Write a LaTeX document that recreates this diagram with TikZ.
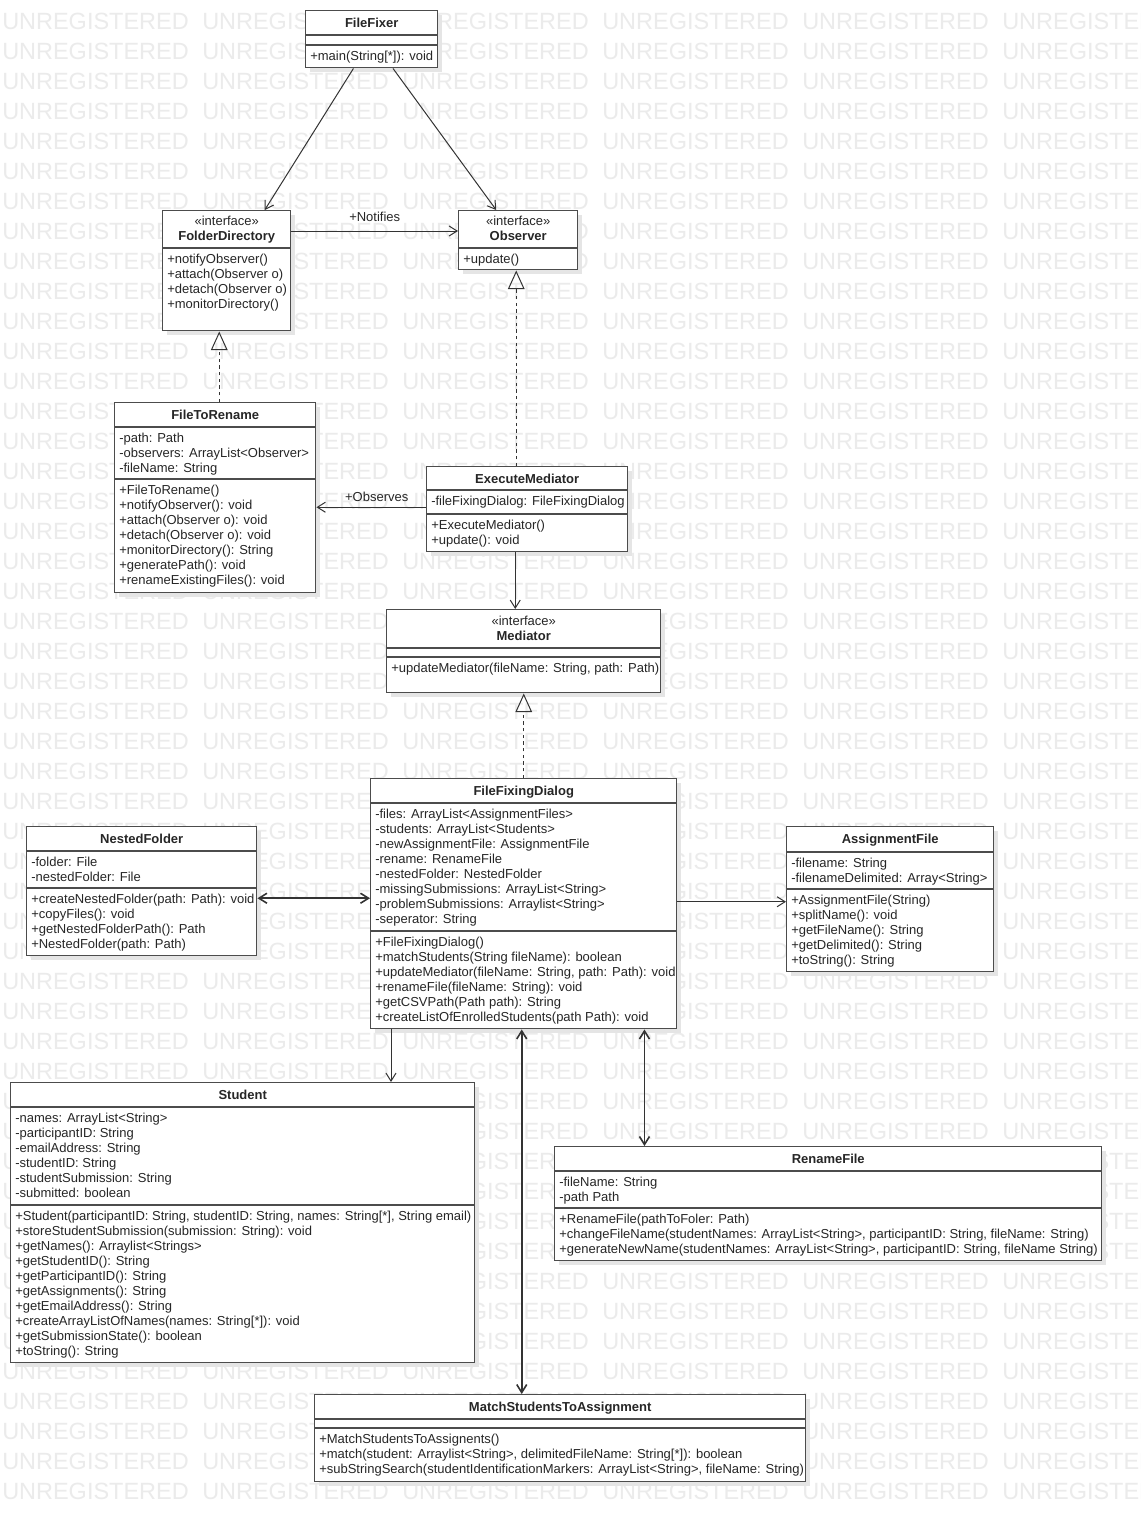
\documentclass[tikz,border=0pt]{standalone}
\usepackage{fontspec}
\setmainfont{Liberation Sans}
\usepackage{tikz}
\usetikzlibrary{arrows.meta, positioning, calc, shadows}
\newdimen\upx
\upx=0.75pt
\newcommand{\umltext}{\fontsize{9.75}{11.25}\selectfont}
\tikzset{
  classbox/.style={draw=black!70, line width=1.1pt, fill=white, anchor=north west, inner sep=0pt,
    drop shadow={shadow xshift=4\upx, shadow yshift=-4\upx, fill=black!10, opacity=1}},
  classline/.style={draw=black!70, line width=1.1pt},
  classname/.style={anchor=base, inner sep=0pt, font=\umltext\bfseries, text=black!85},
  stereo/.style={anchor=base, inner sep=0pt, font=\umltext, text=black!85},
  members/.style={anchor=north west, inner sep=0pt, align=left, font=\umltext, text=black!85},
  edgelabel/.style={inner sep=0pt, font=\umltext, text=black!85},
  assoc/.style={draw=black!80, line width=0.75pt, -{Straight Barb[length=6pt, width=7.5pt]}},
  bidir/.style={draw=black!80, line width=1.2pt, {Straight Barb[length=6pt, width=7.5pt]}-{Straight Barb[length=6pt, width=7.5pt]}},
  realize/.style={draw=black!80, line width=0.75pt, dash pattern=on 2.5pt off 2.5pt, -{Triangle[open, length=14pt, width=12.5pt]}},
  watermark/.style={anchor=west, inner sep=0pt, font=\fontsize{17.6}{20}\selectfont, text=black!8}
}
\newcommand{\umlclass}[5]{% id, left, top, width, height
  \node[classbox, minimum width=#4\upx, minimum height=#5\upx] (#1) at (#2,#3) {};
}
\newcommand{\umlsep}[2]{% id, offset below top
  \draw[classline] ($(#1.north west)+(0,#2)$) -- ($(#1.north east)+(0,#2)$);
}
\newcommand{\umlname}[3]{\node[classname] (#1-name) at ($(#1.north)+(0,#2+1)$) {#3};}
\newcommand{\umlstereo}[2]{\node[stereo] (#1-stereo) at ($(#1.north)+(0,#2+1)$) {«interface»};}
\newcommand{\umlmembers}[4]{\node[members] (#1-#2) at ($(#1.north west)+(5,#3+1)$) {#4};}

\begin{document}
\begin{tikzpicture}[x=1\upx, y=-1\upx]
        \fill[white] (0,0) rectangle (1140,1521);
        \useasboundingbox (0,0) rectangle (1140,1521);

        % Watermark
        \begin{scope}
          \clip (0,0) rectangle (1140,1521);
          \foreach \row in {0,...,49}
            \foreach \col in {0,...,5}
              \node[watermark] (wm-\row-\col) at (200*\col+2, 21+30*\row) {UNREGISTERED};
        \end{scope}

        % FileFixer
        \umlclass{fixer}{305}{10}{132}{57}
        \umlname{fixer}{16.5}{FileFixer}
        \umlsep{fixer}{25}
        \umlsep{fixer}{35}
        \umlmembers{fixer}{ops}{40}{+main(String[*]): void}

        % FolderDirectory
        \umlclass{folderdir}{162}{210}{128}{120}
        \umlstereo{folderdir}{14}
        \umlname{folderdir}{29.5}{FolderDirectory}
        \umlsep{folderdir}{38}
        \umlmembers{folderdir}{ops}{43}{+notifyObserver()\\+attach(Observer o)\\+detach(Observer o)\\+monitorDirectory()}

        % Observer
        \umlclass{observer}{458}{210}{119}{59}
        \umlstereo{observer}{14}
        \umlname{observer}{29.5}{Observer}
        \umlsep{observer}{38}
        \umlmembers{observer}{ops}{43}{+update()}

        % FileToRename
        \umlclass{filetorename}{114}{402}{201}{190}
        \umlname{filetorename}{16.5}{FileToRename}
        \umlsep{filetorename}{25}
        \umlsep{filetorename}{77}
        \umlmembers{filetorename}{attrs}{30}{-path: Path\\-observers: ArrayList<Observer>\\-fileName: String}
        \umlmembers{filetorename}{ops}{82}{+FileToRename()\\+notifyObserver(): void\\+attach(Observer o): void\\+detach(Observer o): void\\+monitorDirectory(): String\\+generatePath(): void\\+renameExistingFiles(): void}

        % ExecuteMediator
        \umlclass{execmediator}{426}{466}{201}{85}
        \umlname{execmediator}{16}{ExecuteMediator}
        \umlsep{execmediator}{24}
        \umlsep{execmediator}{48}
        \umlmembers{execmediator}{attrs}{29}{-fileFixingDialog: FileFixingDialog}
        \umlmembers{execmediator}{ops}{53}{+ExecuteMediator()\\+update(): void}

        % Mediator
        \umlclass{mediator}{386}{609}{274}{83}
        \umlstereo{mediator}{15}
        \umlname{mediator}{30.5}{Mediator}
        \umlsep{mediator}{39}
        \umlsep{mediator}{48}
        \umlmembers{mediator}{ops}{53}{+updateMediator(fileName: String, path: Path)}

        % FileFixingDialog
        \umlclass{ffdialog}{370}{778}{306}{250}
        \umlname{ffdialog}{16.5}{FileFixingDialog}
        \umlsep{ffdialog}{25}
        \umlsep{ffdialog}{153}
        \umlmembers{ffdialog}{attrs}{30}{-files: ArrayList<AssignmentFiles>\\-students: ArrayList<Students>\\-newAssignmentFile: AssignmentFile\\-rename: RenameFile\\-nestedFolder: NestedFolder\\-missingSubmissions: ArrayList<String>\\-problemSubmissions: Arraylist<String>\\-seperator: String}
        \umlmembers{ffdialog}{ops}{158}{+FileFixingDialog()\\+matchStudents(String fileName): boolean\\+updateMediator(fileName: String, path: Path): void\\+renameFile(fileName: String): void\\+getCSVPath(Path path): String\\+createListOfEnrolledStudents(path Path): void}

        % NestedFolder
        \umlclass{nestedfolder}{26}{826}{230}{129}
        \umlname{nestedfolder}{16.5}{NestedFolder}
        \umlsep{nestedfolder}{25}
        \umlsep{nestedfolder}{62}
        \umlmembers{nestedfolder}{attrs}{30}{-folder: File\\-nestedFolder: File}
        \umlmembers{nestedfolder}{ops}{67}{+createNestedFolder(path: Path): void\\+copyFiles(): void\\+getNestedFolderPath(): Path\\+NestedFolder(path: Path)}

        % AssignmentFile
        \umlclass{assignfile}{786}{826}{207}{145}
        \umlname{assignfile}{16.5}{AssignmentFile}
        \umlsep{assignfile}{26}
        \umlsep{assignfile}{63}
        \umlmembers{assignfile}{attrs}{31}{-filename: String\\-filenameDelimited: Array<String>}
        \umlmembers{assignfile}{ops}{68}{+AssignmentFile(String)\\+splitName(): void\\+getFileName(): String\\+getDelimited(): String\\+toString(): String}

        % Student
        \umlclass{student}{10}{1082}{464}{280}
        \umlname{student}{16.5}{Student}
        \umlsep{student}{25}
        \umlsep{student}{123}
        \umlmembers{student}{attrs}{30}{-names: ArrayList<String>\\-participantID: String\\-emailAddress: String\\-studentID: String\\-studentSubmission: String\\-submitted: boolean}
        \umlmembers{student}{ops}{128}{+Student(participantID: String, studentID: String, names: String[*], String email)\\+storeStudentSubmission(submission: String): void\\+getNames(): Arraylist<Strings>\\+getStudentID(): String\\+getParticipantID(): String\\+getAssignments(): String\\+getEmailAddress(): String\\+createArrayListOfNames(names: String[*]): void\\+getSubmissionState(): boolean\\+toString(): String}

        % RenameFile
        \umlclass{renamefile}{554}{1146}{547}{114}
        \umlname{renamefile}{16.5}{RenameFile}
        \umlsep{renamefile}{25}
        \umlsep{renamefile}{62}
        \umlmembers{renamefile}{attrs}{30}{-fileName: String\\-path Path}
        \umlmembers{renamefile}{ops}{67}{+RenameFile(pathToFoler: Path)\\+changeFileName(studentNames: ArrayList<String>, participantID: String, fileName: String)\\+generateNewName(studentNames: ArrayList<String>, participantID: String, fileName String)}

        % MatchStudentsToAssignment
        \umlclass{matcher}{314}{1394}{491}{87}
        \umlname{matcher}{16.5}{MatchStudentsToAssignment}
        \umlsep{matcher}{25}
        \umlsep{matcher}{34}
        \umlmembers{matcher}{ops}{39}{+MatchStudentsToAssignents()\\+match(student: Arraylist<String>, delimitedFileName: String[*]): boolean\\+subStringSearch(studentIdentificationMarkers: ArrayList<String>, fileName: String)}

        % Links
        \draw[assoc] (fixer) -- (folderdir);
        \draw[assoc] (fixer) -- (observer);
        \draw[assoc] ($(folderdir.north east)+(0,21)$) -- ($(observer.north west)+(0,21)$)
          node[edgelabel, midway, yshift=10.5pt] (notifies) {+Notifies};
        \draw[assoc] ([yshift=2\upx]execmediator.west) -- ([yshift=2\upx]execmediator.west -| filetorename.east)
          node[edgelabel, pos=0.45, yshift=7.5pt] (observes) {+Observes};
        \draw[assoc] ([xshift=-12\upx]execmediator.south) -- ([xshift=-12\upx]execmediator.south |- mediator.north);
        \draw[assoc] ([yshift=2\upx]ffdialog.east) -- ([yshift=2\upx]ffdialog.east -| assignfile.west);
        \draw[assoc] ([xshift=21\upx]ffdialog.south west) -- ([xshift=21\upx]ffdialog.south west |- student.north);

        % Two-way links
        \draw[bidir] ([yshift=-7\upx]nestedfolder.east) -- ([yshift=-7\upx]nestedfolder.east -| ffdialog.west);
        \draw[bidir] ([xshift=-2\upx]ffdialog.south) -- ([xshift=-2\upx]ffdialog.south |- matcher.north);
        \draw[bidir] ([xshift=-33\upx]ffdialog.south east) -- ([xshift=-33\upx]ffdialog.south east |- renamefile.north);

        % Realizations
        \draw[realize] ([xshift=4\upx]filetorename.north) -- ([xshift=4\upx]filetorename.north |- folderdir.south);
        \draw[realize] ([xshift=-2\upx]observer.south |- execmediator.north) -- ([xshift=-2\upx]observer.south);
        \draw[realize] (ffdialog.north) -- (mediator.south);
    \end{tikzpicture}
\end{document}
